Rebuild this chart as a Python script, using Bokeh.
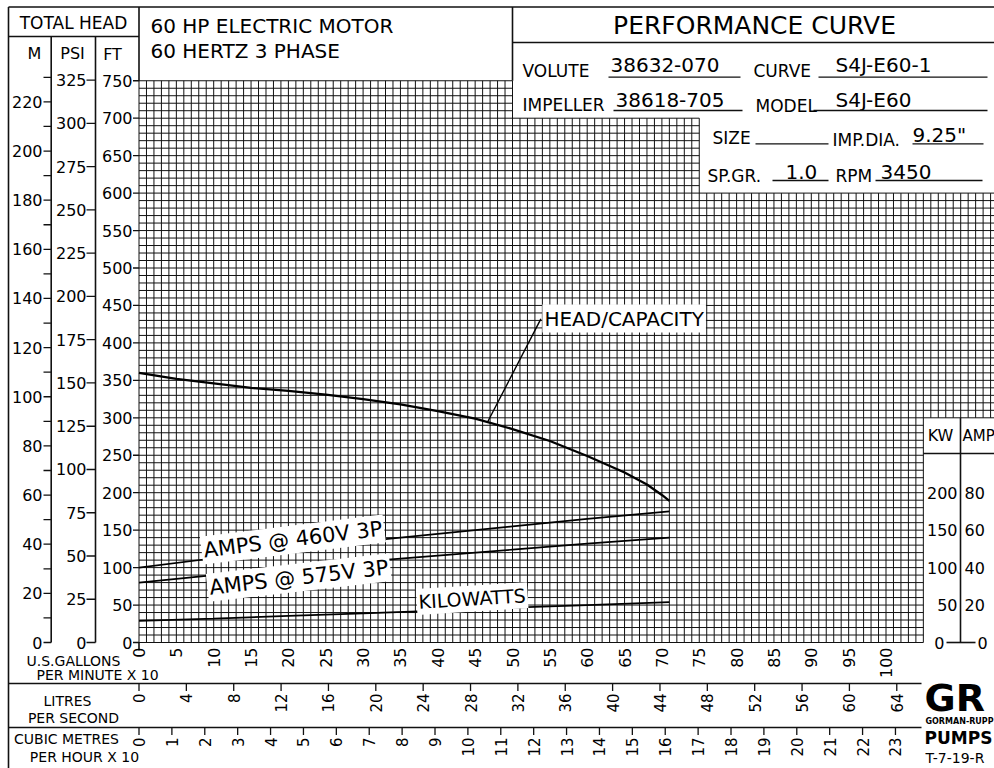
import math
from bokeh.plotting import figure
from bokeh.models import Range1d
from bokeh.embed import file_html
from bokeh.resources import INLINE
from bokeh.core.properties import value

# ---------------- data ----------------
# capacity in U.S. gallons per minute x 10
head_gpm10 = [0, 5, 10, 15, 20, 25, 30, 35, 40, 45, 50, 55, 60, 65, 68, 70, 71]
head_ft = [360, 352, 346, 340, 336, 331, 325, 318, 309, 299, 285, 269, 249, 227, 211, 197, 189]
power_gpm10 = [0, 10, 20, 30, 40, 50, 60, 71]
amps_460v = [40, 45, 50, 54, 58, 62, 66, 70]
amps_575v = [32, 36, 40, 43.2, 46.4, 49.6, 52.8, 56]
kilowatts = [29, 32, 35.5, 39, 42.5, 46.5, 50, 54]

m_tick_values = list(range(0, 231, 10))
m_label_values = list(range(0, 221, 20))
psi_label_values = list(range(0, 326, 25))
ft_label_values = list(range(0, 751, 50))
gpm_label_values = list(range(0, 101, 5))
lps_label_values = list(range(0, 65, 4))
m3h_label_values = list(range(0, 24))
kw_label_values = [0, 50, 100, 150, 200]
amp_label_values = [0, 20, 40, 60, 80]

# unit conversions
FT_PER_M = 3.28084
FT_PER_PSI = 2.31
UNIT_PER_LPS = 1.58503      # GPMx10 per litre/second
UNIT_PER_M3H10 = 4.40287    # GPMx10 per (m3/h x 10)
FT_PER_AMP = 2.5
FT_PER_KW = 1.0

# ---------------- page geometry ----------------
W, H = 994, 768
OX, OY = 0, 0
X0_PX, PX_PER_UNIT = 138.5, 7.47
Y0_PX, PX_PER_FT = 642.0, 0.749

xs = (OX - X0_PX) / PX_PER_UNIT
xe = (OX + W - X0_PX) / PX_PER_UNIT
ys = (Y0_PX - (OY + H)) / PX_PER_FT
ye = (Y0_PX - OY) / PX_PER_FT

p = figure(width=W, height=H, x_range=Range1d(xs, xe), y_range=Range1d(ys, ye),
           output_backend="svg", toolbar_location=None, min_border=0,
           x_axis_location=None, y_axis_location=None, outline_line_color=None,
           background_fill_color="white", border_fill_color="white")
p.grid.visible = False

p.extra_x_ranges = {
    "px": Range1d(OX, OX + W),
    "lps": Range1d(xs / UNIT_PER_LPS, xe / UNIT_PER_LPS),
    "m3h": Range1d(xs / UNIT_PER_M3H10, xe / UNIT_PER_M3H10),
}
p.extra_y_ranges = {
    "px": Range1d(OY + H, OY),
    "m": Range1d(ys / FT_PER_M, ye / FT_PER_M),
    "psi": Range1d(ys / FT_PER_PSI, ye / FT_PER_PSI),
    "amps": Range1d(ys / FT_PER_AMP, ye / FT_PER_AMP),
    "kw": Range1d(ys / FT_PER_KW, ye / FT_PER_KW),
}

F = "DejaVu Sans"
INK = "#111111"


def rng(xr, yr):
    kw = {}
    if xr:
        kw["x_range_name"] = xr
    if yr:
        kw["y_range_name"] = yr
    return kw


def segs(x0, y0, x1, y1, xr=None, yr=None, width=1.0, color=INK):
    p.segment(x0=x0, y0=y0, x1=x1, y1=y1, line_color=color, line_width=width,
              **rng(xr, yr))


def txt(x, y, s, size, xr=None, yr=None, align="left", baseline="middle",
        angle=0.0, bold=False, bg=None, color="black"):
    if not isinstance(x, list):
        x, y, s = [x], [y], [s]
    extra = {}
    if bg:
        extra = dict(background_fill_color=bg, padding=2)
    p.text(x=x, y=y, text=s, text_font=value(F), text_font_size=value(f"{size}px"),
           text_align=align, text_baseline=baseline, angle=angle,
           text_font_style="bold" if bold else "normal", text_color=color,
           **extra, **rng(xr, yr))


# ---------------- grid ----------------
gx0, gy0, gx1, gy1 = [], [], [], []
for u in range(0, int(math.floor(xe)) + 1):
    top = 750 if u <= 50 else (700 if u <= 75 else 600)
    bottom = 300 if u > 105 else 0
    gx0.append(u); gx1.append(u); gy0.append(bottom); gy1.append(top)
for f in range(0, 751, 10):
    right = xe if f <= 600 else (75 if f <= 700 else 50)
    if f < 300:
        right = 105
    gx0.append(0); gx1.append(right); gy0.append(f); gy1.append(f)
segs(gx0, gy0, gx1, gy1, width=1.0)

# ---------------- frame lines (page pixels) ----------------
fx0 = [8.0, 8.0, 138.5, 8.0, 50.7, 95.0, 512.0, 512.0, 8.0, 8.0, 138.5]
fy0 = [6.5, 6.5, 6.5, 36.0, 36.0, 36.0, 6.5, 42.0, 683.0, 727.0, 642.0]
fx1 = [994, 8.0, 138.5, 138.5, 50.7, 95.0, 512.0, 994, 921.0, 921.0, 138.5]
fy1 = [6.5, 768, 80.3, 36.0, 642.0, 642.0, 80.3, 42.0, 683.0, 727.0, 650.0]
segs(fx0, fy0, fx1, fy1, xr="px", yr="px", width=1.6)

# KW / AMP box pieces
segs([922.9, 960.0, 946.0], [453.0, 417.0, 642.0], [994, 960.0, 975.0], [453.0, 642.0, 642.0],
     xr="px", yr="px", width=1.6)

# ---------------- header texts ----------------
txt(73, 22, "TOTAL HEAD", 17, "px", "px", align="center")
txt(34, 53, "M", 16, "px", "px", align="center")
txt(72, 53, "PSI", 16, "px", "px", align="center")
txt(112, 54, "FT", 16, "px", "px", align="center")
txt(150, 25, "60 HP ELECTRIC MOTOR", 20, "px", "px")
txt(150, 50, "60 HERTZ 3 PHASE", 20, "px", "px")
txt(758, 25, "PERFORMANCE  CURVE", 25, "px", "px", align="center")

info_labels = ["VOLUTE", "CURVE", "IMPELLER", "MODEL", "SIZE", "IMP.DIA.", "SP.GR.", "RPM"]
info_lx = [522, 753, 522, 755, 712, 832, 707, 835]
info_ly = [70, 70, 104, 105, 137, 139, 175, 175]
txt(info_lx, info_ly, info_labels, 17, "px", "px")
info_values = ["38632-070", "S4J-E60-1", "38618-705", "S4J-E60", "9.25\"", "1.0", "3450"]
info_vx = [610, 835, 615, 835, 912, 785, 880]
info_vy = [64, 64, 99, 99, 134, 171, 171]
txt(info_vx, info_vy, info_values, 20, "px", "px")
segs([608, 818, 613, 813, 755, 912, 772, 875],
     [76.7, 76.7, 110, 110, 143.3, 143.3, 180, 180],
     [740, 987, 742, 987, 828, 983, 828, 982],
     [76.7, 76.7, 110, 110, 143.3, 143.3, 180, 180],
     xr="px", yr="px", width=1.3)

# ---------------- left axes: M, PSI, FT ----------------
segs([43.0] * len(m_tick_values), m_tick_values, [50.7] * len(m_tick_values), m_tick_values,
     xr="px", yr="m", width=1.3)
txt([42.0] * len(m_label_values), m_label_values, [str(v) for v in m_label_values], 16,
    "px", "m", align="right")

segs([86.0] * len(psi_label_values), psi_label_values, [95.0] * len(psi_label_values),
     psi_label_values, xr="px", yr="psi", width=1.3)
txt([86.0] * len(psi_label_values), psi_label_values, [str(v) for v in psi_label_values], 16,
    "px", "psi", align="right")

segs([132.5] * len(ft_label_values), ft_label_values, [138.5] * len(ft_label_values),
     ft_label_values, xr="px", yr=None, width=1.3)
txt([132.0] * len(ft_label_values), ft_label_values, [str(v) for v in ft_label_values], 16,
    "px", None, align="right")

# ---------------- bottom axes ----------------
txt(gpm_label_values, [647.0] * len(gpm_label_values), [str(v) for v in gpm_label_values], 16,
    None, "px", align="right", angle=math.pi / 2)
segs(lps_label_values, [683.0] * len(lps_label_values), lps_label_values,
     [690.5] * len(lps_label_values), xr="lps", yr="px", width=1.3)
txt(lps_label_values, [693.0] * len(lps_label_values), [str(v) for v in lps_label_values], 15,
    "lps", "px", align="right", angle=math.pi / 2)
segs(m3h_label_values, [727.0] * len(m3h_label_values), m3h_label_values,
     [734.5] * len(m3h_label_values), xr="m3h", yr="px", width=1.3)
txt(m3h_label_values, [737.0] * len(m3h_label_values), [str(v) for v in m3h_label_values], 15,
    "m3h", "px", align="right", angle=math.pi / 2)

txt([73, 97, 67, 73, 66, 84], [660, 674, 700, 717, 738, 756],
    ["U.S.GALLONS", "PER MINUTE X 10", "LITRES", "PER SECOND", "CUBIC METRES", "PER HOUR X 10"],
    14, "px", "px", align="center")

# ---------------- KW / AMP scale ----------------
txt(940, 435, "KW", 16, "px", "px", align="center")
txt(962, 435, "AMP", 15, "px", "px")
kw_lab = [v for v in kw_label_values if v > 0]
amp_lab = [v for v in amp_label_values if v > 0]
txt([957.0] * len(kw_lab), kw_lab, [str(v) for v in kw_lab], 16, "px", "kw", align="right")
txt([964.0] * len(amp_lab), amp_lab, [str(v) for v in amp_lab], 16, "px", "amps")
txt(944, 0, "0", 16, "px", "kw", align="right")
txt(977, 0, "0", 16, "px", "amps")

# ---------------- curves ----------------
p.line(power_gpm10, kilowatts, line_color="black", line_width=1.7, y_range_name="kw")
p.line(power_gpm10, amps_575v, line_color="black", line_width=1.7, y_range_name="amps")
p.line(power_gpm10, amps_460v, line_color="black", line_width=1.7, y_range_name="amps")
p.line(head_gpm10, head_ft, line_color="black", line_width=2.3)

# curve labels
p.segment(x0=[46.7], y0=[295], x1=[53.8], y1=[432], line_color="black", line_width=1.4)
txt(54.0, 432.5, "HEAD/CAPACITY", 20, align="left", bg="white")
txt(20.6, 55.0, "AMPS @ 460V 3P", 21, yr="amps", align="center", angle=math.radians(7.0), bg="white")
txt(21.4, 34.7, "AMPS @ 575V 3P", 21, yr="amps", align="center", angle=math.radians(6.5), bg="white")
txt(44.6, 58.7, "KILOWATTS", 19, yr="kw", align="center", angle=math.radians(3.5), bg="white")

# ---------------- logo and drawing number ----------------
txt(924, 697, "GR", 38, "px", "px", bold=True)
txt(925, 721, "GORMAN-RUPP", 8, "px", "px", bold=True)
txt(924, 737, "PUMPS", 17, "px", "px", bold=True)
txt(925, 757, "T-7-19-R", 14, "px", "px")

open("out.html", "w").write(file_html(p, INLINE))
